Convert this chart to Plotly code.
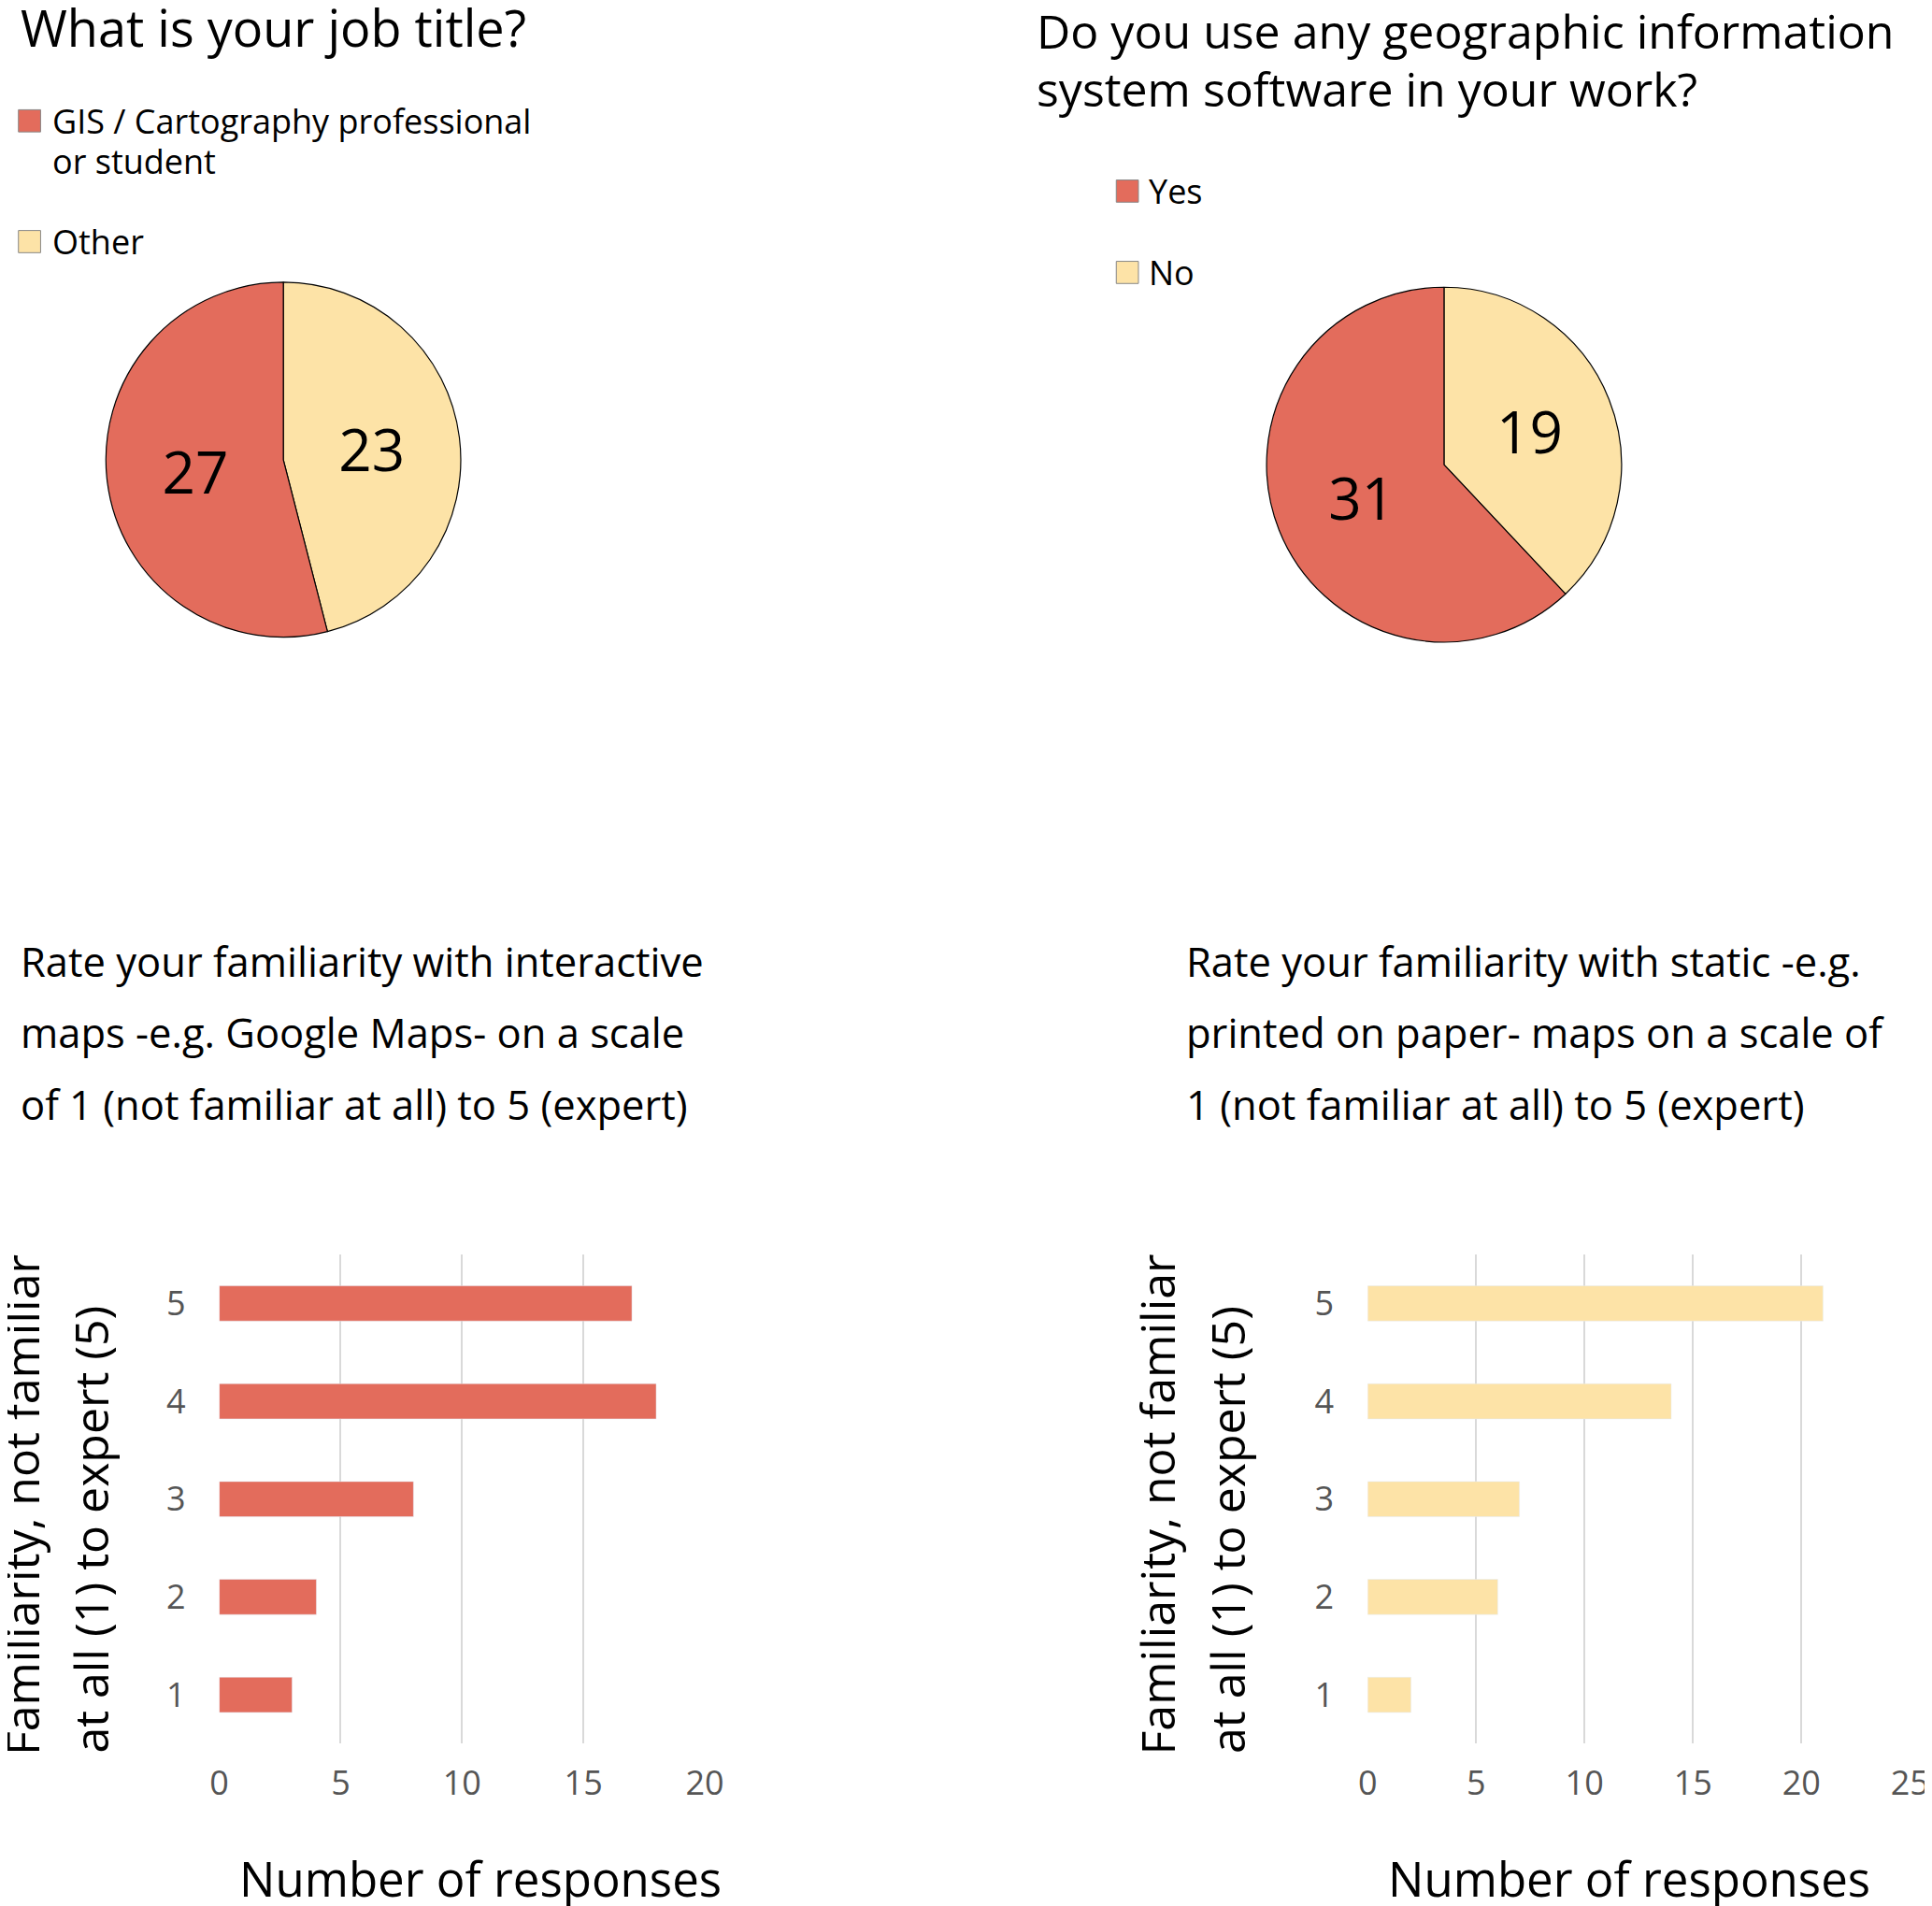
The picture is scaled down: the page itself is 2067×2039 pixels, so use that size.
import plotly.graph_objects as go

W, H = 2067, 2039
S = W / 1568.0
RED = "#E36C5C"; YEL = "#FDE3A7"
FONT = "Open Sans"

job_labels = ["GIS / Cartography professional or student", "Other"]
job_values = [27, 23]
gis_labels = ["Yes", "No"]
gis_values = [31, 19]
levels = [1, 2, 3, 4, 5]
interactive_counts = [3, 4, 8, 18, 17]
static_counts = [2, 6, 7, 14, 21]

def px(x): return ((x - 13.7) / 0.985) * S / W
def py(y): return 1 - (y - 6) * S / H

fig = go.Figure()

def pie(values, labels, cx, cy, r):
    fig.add_trace(go.Pie(values=values[::-1], labels=labels[::-1], sort=False, direction="clockwise",
                         rotation=0, textinfo="value", textposition="inside", insidetextorientation="horizontal",
                         textfont=dict(size=62, color="black", family=FONT),
                         marker=dict(colors=[YEL, RED], line=dict(color="black", width=1.2)),
                         showlegend=False, hoverinfo="label+value",
                         domain=dict(x=[px(cx - r), px(cx + r)], y=[py(cy + r), py(cy - r)])))

pie(job_values, job_labels, 230, 373, 144)
pie(gis_values, gis_labels, 1172, 377, 144)

fig.add_trace(go.Bar(x=interactive_counts, y=levels, orientation="h", marker_color=RED,
                     width=0.36, showlegend=False, xaxis="x", yaxis="y"))
fig.add_trace(go.Bar(x=static_counts, y=levels, orientation="h", marker_color=YEL,
                     width=0.36, showlegend=False, xaxis="x2", yaxis="y2"))

ydom = [py(1415), py(1018)]
axcommon = dict(showgrid=True, gridcolor="#d9d9d9", gridwidth=1.5, zeroline=False,
                tickfont=dict(size=36, color="#555", family=FONT), showline=False, ticks="")
ycommon = dict(range=[0.5, 5.5], dtick=1, showgrid=False, zeroline=False,
               tickfont=dict(size=36, color="#555", family=FONT), ticks="")
fig.update_layout(
    xaxis=dict(domain=[px(178), px(572)], range=[0, 20], dtick=5, anchor="y", **axcommon),
    yaxis=dict(domain=ydom, anchor="x", **ycommon),
    xaxis2=dict(domain=[px(1110), px(1550)], range=[0, 25], dtick=5, anchor="y2", **axcommon),
    yaxis2=dict(domain=ydom, anchor="x2", **ycommon),
)
fig.update_xaxes(ticklabelstandoff=18)
fig.update_yaxes(ticklabelstandoff=35)

ann = []
shapes = []
def text(x, y, t, size, anchor="left", yanchor="top", angle=0, color="black"):
    ann.append(dict(x=px(x), y=py(y - 4), xref="paper", yref="paper", text=t, showarrow=False,
                    xanchor=anchor, yanchor=yanchor, textangle=angle, align="left",
                    font=dict(size=size, color=color, family=FONT)))
def square(x, y, color):
    shapes.append(dict(type="rect", xref="paper", yref="paper", x0=px(x), x1=px(x + 18),
                       y0=py(y + 18), y1=py(y), fillcolor=color, line=dict(color="#888", width=1)))

text(15, -4, "What is your job title?", 54)
text(840, 2, "Do you use any geographic information", 50)
text(840, 49, "system software in your work?", 50)

square(15, 89, RED); text(41, 82, "GIS / Cartography professional", 36)
text(41, 115, "or student", 36)
square(15, 187, YEL); text(41, 180, job_labels[1], 36)
square(906, 146, RED); text(931, 139, gis_labels[0], 36)
square(906, 212, YEL); text(931, 205, gis_labels[1], 36)

for i, line in enumerate(["Rate your familiarity with interactive",
                          "maps -e.g. Google Maps- on a scale",
                          "of 1 (not familiar at all) to 5 (expert)"]):
    text(15, 760 + 58 * i, line, 43.5)
for i, line in enumerate(["Rate your familiarity with static -e.g.",
                          "printed on paper- maps on a scale of",
                          "1 (not familiar at all) to 5 (expert)"]):
    text(961, 760 + 58 * i, line, 43.5)

text(390, 1528, "Number of responses", 51, anchor="center", yanchor="middle")
text(1322, 1528, "Number of responses", 51, anchor="center", yanchor="middle")
for x0 in (17, 939):
    text(x0, 1225, "Familiarity, not familiar", 50, anchor="center", yanchor="middle", angle=-90)
    text(x0 + 57, 1245, "at all (1) to expert (5)", 50, anchor="center", yanchor="middle", angle=-90)

fig.update_layout(width=W, height=H, margin=dict(l=0, r=0, t=0, b=0),
                  paper_bgcolor="white", plot_bgcolor="white", annotations=ann, shapes=shapes,
                  font=dict(family=FONT))
fig.write_html("out.html")
